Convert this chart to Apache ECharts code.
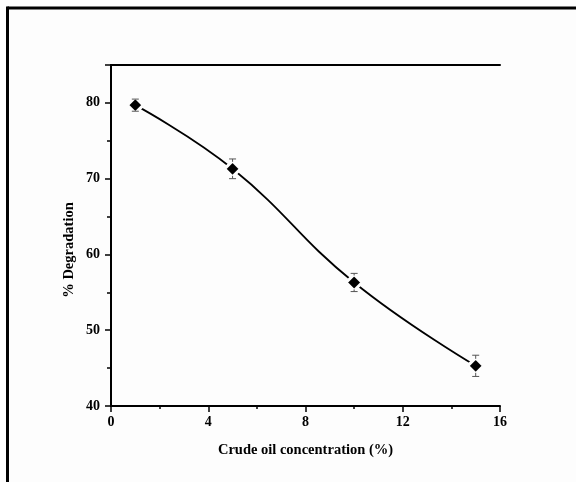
<!DOCTYPE html>
<html>
<head>
<meta charset="utf-8">
<script src="https://cdn.jsdelivr.net/npm/echarts@6/dist/echarts.min.js"></script>
<style>
html,body{margin:0;padding:0;background:#fdfdfd;}
#chart{width:576px;height:482px;}
</style>
</head>
<body>
<div id="chart"></div>
<script>
// Data
var concentrations = [1, 5, 10, 15];
var degradation = [79.7, 71.3, 56.3, 45.3];
var errors = [0.8, 1.3, 1.2, 1.4];
var xTitle = 'Crude oil concentration (%)';
var yTitle = '% Degradation';

var chart = echarts.init(document.getElementById('chart'));
var font = 'Liberation Serif';
var pts = concentrations.map(function (x, i) { return [x, degradation[i]]; });
var errData = concentrations.map(function (x, i) { return [x, degradation[i] - errors[i], degradation[i] + errors[i]]; });

var option = {
  backgroundColor: '#fdfdfd',
  animation: false,
  grid: { left: 111, right: 76, top: 65, bottom: 76 },
  xAxis: [{
    type: 'value', min: 0, max: 16, interval: 4,
    name: xTitle, nameLocation: 'middle', nameGap: 37,
    nameTextStyle: { fontFamily: font, fontWeight: 'bold', fontSize: 14.5, color: '#000' },
    axisLine: { onZero: false, lineStyle: { color: '#000', width: 2 } },
    axisTick: { show: true, inside: false, length: 6, lineStyle: { color: '#000', width: 1.5 } },
    minorTick: { show: true, splitNumber: 2, length: 3, lineStyle: { color: '#000', width: 1.5 } },
    axisLabel: { margin: 9, fontFamily: font, fontWeight: 'bold', fontSize: 14, color: '#000' },
    splitLine: { show: false }
  }, {
    type: 'value', position: 'top', min: 0, max: 16,
    axisLine: { show: true, lineStyle: { color: '#000', width: 2 } },
    axisTick: { show: false }, axisLabel: { show: false }, splitLine: { show: false }
  }],
  yAxis: [{
    type: 'value', min: 40, max: 85, interval: 10,
    axisLine: { onZero: false, lineStyle: { color: '#000', width: 2 } },
    axisTick: { show: true, inside: false, length: 6, lineStyle: { color: '#000', width: 1.5 } },
    minorTick: { show: true, splitNumber: 2, length: 4, lineStyle: { color: '#000', width: 1.5 } },
    axisLabel: { margin: 11, showMaxLabel: false, fontFamily: font, fontWeight: 'bold', fontSize: 14, color: '#000' },
    splitLine: { show: false }
  }, {
    type: 'value', position: 'right', min: 40, max: 85,
    axisLine: { show: true, lineStyle: { color: '#000', width: 2 } },
    axisTick: { show: false }, axisLabel: { show: false }, splitLine: { show: false }
  }],
  graphic: [
    { type: 'line', shape: { x1: 7.5, y1: 8, x2: 576, y2: 8 }, style: { stroke: '#000', lineWidth: 3 } },
    { type: 'line', shape: { x1: 7.5, y1: 6.5, x2: 7.5, y2: 482 }, style: { stroke: '#000', lineWidth: 3 } },
    { type: 'text', x: 69, y: 250, rotation: Math.PI / 2,
      style: { text: yTitle, font: 'bold 14.5px "Liberation Serif"', fill: '#000', textAlign: 'center', textVerticalAlign: 'middle' } }
  ],
  series: [{
    type: 'line', data: pts, smooth: 0.45, showSymbol: false, z: 1,
    lineStyle: { color: '#000', width: 1.8 }
  }, {
    type: 'scatter', data: pts, symbol: 'diamond', symbolSize: 16, z: 3,
    itemStyle: { color: '#000', opacity: 1, borderColor: '#fdfdfd', borderWidth: 3 },
    emphasis: { disabled: true }
  }, {
    type: 'custom', data: errData, z: 4,
    renderItem: function (params, api) {
      var x = api.value(0);
      var lo = api.coord([x, api.value(1)]);
      var hi = api.coord([x, api.value(2)]);
      var c = api.coord([x, (api.value(1) + api.value(2)) / 2]);
      var hw = 3.5, gap = 7;
      var st = { stroke: '#555', lineWidth: 1 };
      var children = [
        { type: 'line', shape: { x1: hi[0] - hw, y1: hi[1], x2: hi[0] + hw, y2: hi[1] }, style: st },
        { type: 'line', shape: { x1: lo[0] - hw, y1: lo[1], x2: lo[0] + hw, y2: lo[1] }, style: st }
      ];
      if (c[1] - gap > hi[1]) children.push({ type: 'line', shape: { x1: hi[0], y1: hi[1], x2: hi[0], y2: c[1] - gap }, style: st });
      if (c[1] + gap < lo[1]) children.push({ type: 'line', shape: { x1: lo[0], y1: c[1] + gap, x2: lo[0], y2: lo[1] }, style: st });
      return { type: 'group', children: children };
    }
  }]
};
chart.setOption(option);
</script>
</body>
</html>
